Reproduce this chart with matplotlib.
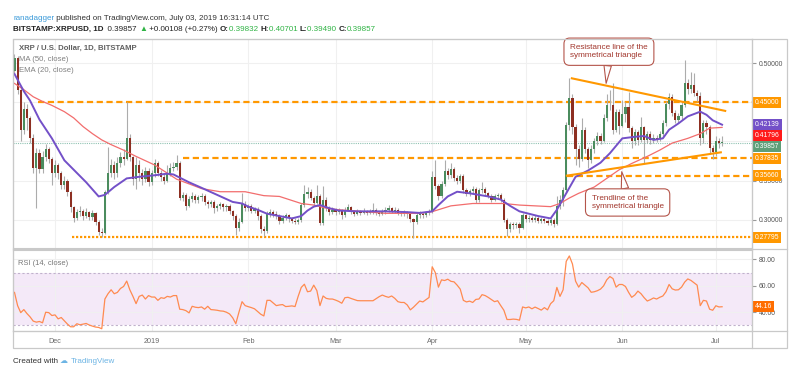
import matplotlib

matplotlib.use("Agg")
import matplotlib.pyplot as plt
from matplotlib.lines import Line2D
from matplotlib.patches import Rectangle
import numpy as np
import pandas as pd

W, H = 800, 378
FONT = ["Liberation Sans", "DejaVu Sans"]
plt.rcParams["font.family"] = FONT

# ---------------------------------------------------------------- data
FIRST_DAY = "2018-11-18"
FIRST_OPEN = 0.490

closes = [
    0.506, 0.466, 0.415, 0.442, 0.430, 0.405, 0.366, 0.385, 0.365, 0.380,
    0.390, 0.378, 0.360, 0.370, 0.360, 0.344, 0.350, 0.336, 0.316, 0.303,
    0.310, 0.312, 0.305, 0.310, 0.304, 0.309, 0.298, 0.285, 0.283, 0.336,
    0.360, 0.370, 0.360, 0.372, 0.380, 0.378, 0.404, 0.380, 0.352, 0.370,
    0.360, 0.352, 0.362, 0.348, 0.360, 0.372, 0.360, 0.355, 0.350, 0.360,
    0.366, 0.368, 0.372, 0.328, 0.332, 0.318, 0.327, 0.331, 0.326, 0.329,
    0.331, 0.323, 0.320, 0.323, 0.315, 0.318, 0.320, 0.316, 0.318, 0.311,
    0.305, 0.290, 0.298, 0.321, 0.315, 0.318, 0.312, 0.314, 0.305, 0.288,
    0.286, 0.308, 0.310, 0.308, 0.305, 0.299, 0.303, 0.306, 0.302, 0.299,
    0.298, 0.300, 0.319, 0.333, 0.336, 0.328, 0.322, 0.330, 0.296, 0.326,
    0.315, 0.310, 0.313, 0.310, 0.312, 0.306, 0.313, 0.316, 0.310, 0.308,
    0.311, 0.309, 0.311, 0.309, 0.311, 0.313, 0.309, 0.308, 0.311, 0.313,
    0.315, 0.312, 0.313, 0.309, 0.308, 0.310, 0.307, 0.301, 0.298, 0.306,
    0.308, 0.306, 0.309, 0.311, 0.355, 0.343, 0.330, 0.346, 0.362, 0.357,
    0.365, 0.353, 0.350, 0.356, 0.338, 0.333, 0.337, 0.340, 0.325, 0.338,
    0.340, 0.334, 0.331, 0.326, 0.330, 0.332, 0.326, 0.300, 0.288, 0.295,
    0.293, 0.295, 0.290, 0.306, 0.301, 0.303, 0.300, 0.303, 0.299, 0.301,
    0.299, 0.296, 0.300, 0.295, 0.318, 0.325, 0.338, 0.421, 0.455, 0.418,
    0.390, 0.378, 0.415, 0.390, 0.377, 0.390, 0.400, 0.407, 0.401, 0.430,
    0.446, 0.447, 0.415, 0.438, 0.420, 0.435, 0.444, 0.417, 0.400, 0.412,
    0.402, 0.418, 0.402, 0.410, 0.402, 0.405, 0.403, 0.410, 0.423, 0.448,
    0.457, 0.436, 0.428, 0.432, 0.447, 0.475, 0.467, 0.472, 0.462, 0.458,
    0.404, 0.423, 0.418, 0.392, 0.386, 0.400, 0.39832, 0.39857,
]

highs = [
    0.512, 0.509, 0.470, 0.450, 0.448, 0.433, 0.410, 0.392, 0.390, 0.388,
    0.397, 0.393, 0.380, 0.376, 0.373, 0.362, 0.356, 0.352, 0.338, 0.318,
    0.314, 0.318, 0.314, 0.315, 0.312, 0.313, 0.310, 0.300, 0.290, 0.338,
    0.393, 0.378, 0.375, 0.380, 0.386, 0.390, 0.450, 0.410, 0.382, 0.380,
    0.376, 0.365, 0.368, 0.366, 0.364, 0.378, 0.375, 0.364, 0.360, 0.370,
    0.372, 0.374, 0.383, 0.375, 0.336, 0.334, 0.331, 0.336, 0.333, 0.332,
    0.334, 0.333, 0.326, 0.326, 0.325, 0.321, 0.323, 0.322, 0.321, 0.320,
    0.313, 0.307, 0.302, 0.335, 0.324, 0.321, 0.320, 0.317, 0.316, 0.307,
    0.292, 0.311, 0.314, 0.313, 0.311, 0.307, 0.306, 0.309, 0.308, 0.304,
    0.302, 0.303, 0.322, 0.345, 0.342, 0.339, 0.331, 0.344, 0.333, 0.343,
    0.329, 0.318, 0.316, 0.315, 0.315, 0.314, 0.316, 0.320, 0.318, 0.313,
    0.314, 0.313, 0.315, 0.313, 0.314, 0.322, 0.315, 0.312, 0.314, 0.316,
    0.319, 0.317, 0.316, 0.315, 0.312, 0.313, 0.312, 0.309, 0.303, 0.309,
    0.311, 0.310, 0.312, 0.314, 0.362, 0.377, 0.346, 0.350, 0.376, 0.366,
    0.372, 0.367, 0.357, 0.359, 0.358, 0.341, 0.340, 0.343, 0.342, 0.341,
    0.349, 0.342, 0.336, 0.333, 0.333, 0.335, 0.334, 0.328, 0.302, 0.298,
    0.297, 0.298, 0.297, 0.309, 0.308, 0.306, 0.305, 0.306, 0.305, 0.304,
    0.303, 0.301, 0.303, 0.302, 0.330, 0.332, 0.342, 0.425, 0.481, 0.460,
    0.422, 0.395, 0.430, 0.418, 0.393, 0.395, 0.405, 0.412, 0.411, 0.435,
    0.460, 0.466, 0.474, 0.442, 0.441, 0.453, 0.450, 0.463, 0.420, 0.416,
    0.415, 0.431, 0.420, 0.414, 0.413, 0.409, 0.408, 0.413, 0.428, 0.452,
    0.462, 0.460, 0.440, 0.436, 0.452, 0.504, 0.480, 0.489, 0.487, 0.466,
    0.463, 0.428, 0.427, 0.421, 0.396, 0.407, 0.404, 0.40701,
]

lows = [
    0.486, 0.460, 0.400, 0.410, 0.415, 0.398, 0.360, 0.315, 0.360, 0.360,
    0.375, 0.372, 0.345, 0.355, 0.352, 0.340, 0.340, 0.330, 0.310, 0.298,
    0.300, 0.305, 0.300, 0.302, 0.300, 0.300, 0.294, 0.281, 0.278, 0.282,
    0.333, 0.355, 0.352, 0.355, 0.368, 0.370, 0.376, 0.375, 0.345, 0.340,
    0.350, 0.345, 0.348, 0.343, 0.345, 0.355, 0.356, 0.350, 0.346, 0.348,
    0.356, 0.362, 0.364, 0.325, 0.324, 0.313, 0.316, 0.323, 0.322, 0.322,
    0.324, 0.319, 0.315, 0.316, 0.309, 0.312, 0.314, 0.312, 0.312, 0.308,
    0.300, 0.281, 0.286, 0.296, 0.311, 0.312, 0.309, 0.309, 0.300, 0.284,
    0.279, 0.284, 0.304, 0.304, 0.301, 0.295, 0.296, 0.300, 0.298, 0.296,
    0.295, 0.295, 0.298, 0.316, 0.328, 0.325, 0.318, 0.320, 0.294, 0.294,
    0.311, 0.306, 0.307, 0.306, 0.307, 0.301, 0.304, 0.311, 0.307, 0.305,
    0.306, 0.306, 0.307, 0.306, 0.307, 0.308, 0.306, 0.305, 0.306, 0.308,
    0.310, 0.309, 0.309, 0.306, 0.305, 0.305, 0.303, 0.298, 0.277, 0.295,
    0.303, 0.303, 0.304, 0.306, 0.309, 0.340, 0.326, 0.328, 0.343, 0.352,
    0.354, 0.350, 0.346, 0.347, 0.335, 0.330, 0.330, 0.334, 0.322, 0.323,
    0.335, 0.331, 0.328, 0.323, 0.324, 0.327, 0.323, 0.297, 0.280, 0.285,
    0.289, 0.290, 0.283, 0.288, 0.298, 0.298, 0.297, 0.298, 0.296, 0.296,
    0.296, 0.293, 0.294, 0.291, 0.293, 0.314, 0.318, 0.335, 0.415, 0.410,
    0.370, 0.368, 0.375, 0.385, 0.366, 0.372, 0.385, 0.395, 0.397, 0.399,
    0.426, 0.440, 0.410, 0.412, 0.410, 0.418, 0.425, 0.412, 0.392, 0.396,
    0.396, 0.399, 0.372, 0.398, 0.397, 0.398, 0.399, 0.400, 0.406, 0.420,
    0.442, 0.432, 0.424, 0.424, 0.428, 0.444, 0.460, 0.462, 0.458, 0.452,
    0.396, 0.398, 0.410, 0.385, 0.378, 0.382, 0.392, 0.39490,
]

# EMA(20) and MA(50) at these bars
ema_bar = [0, 3, 5, 8, 12, 16, 20, 23, 27, 29, 32, 36, 40, 45, 49, 51, 53, 56,
           60, 65, 70, 73, 75, 78, 81, 85, 89, 92, 94, 96, 98, 101, 104, 110,
           119, 126, 130, 134, 136, 139, 142, 146, 152, 156, 159, 162, 168,
           172, 174, 177, 180, 184, 188, 191, 195, 199, 202, 205, 208, 210,
           213, 216, 220, 222, 224, 227]
ema_val = [0.486, 0.464, 0.452, 0.428, 0.404, 0.376, 0.360, 0.348, 0.330,
           0.332, 0.342, 0.353, 0.355, 0.357, 0.359, 0.358, 0.354, 0.348,
           0.341, 0.332, 0.323, 0.321, 0.317, 0.313, 0.308, 0.305, 0.302,
           0.305, 0.312, 0.317, 0.319, 0.315, 0.312, 0.311, 0.311, 0.310,
           0.309, 0.311, 0.319, 0.330, 0.336, 0.334, 0.330, 0.326, 0.318,
           0.311, 0.305, 0.302, 0.313, 0.334, 0.355, 0.363, 0.373, 0.385,
           0.404, 0.406, 0.407, 0.402, 0.404, 0.415, 0.423, 0.432, 0.438,
           0.434, 0.427, 0.42139]

ma_bar = [0, 3, 6, 9, 12, 16, 19, 22, 25, 28, 31, 35, 39, 45, 52, 60, 66, 74,
          80, 85, 92, 96, 100, 104, 111, 119, 130, 134, 140, 147, 157, 162,
          172, 175, 178, 181, 186, 190, 194, 198, 203, 207, 211, 216, 220,
          223, 227]
ma_val = [0.474, 0.466, 0.457, 0.451, 0.446, 0.438, 0.430, 0.419, 0.410,
          0.402, 0.396, 0.389, 0.381, 0.370, 0.352, 0.340, 0.336, 0.336,
          0.331, 0.330, 0.321, 0.319, 0.315, 0.313, 0.311, 0.3085, 0.3085,
          0.3106, 0.318, 0.321, 0.321, 0.319, 0.317, 0.321, 0.328, 0.334,
          0.342, 0.353, 0.364, 0.372, 0.381, 0.389, 0.398, 0.404, 0.410,
          0.417, 0.41796]

rsi = [
    55, 45, 39.7, 42, 39, 36.5, 33.3, 32.5, 33, 32,
    40, 39.7, 37.5, 38, 35, 36, 33.5, 31, 29, 29,
    31.3, 30.5, 31, 31.5, 30.3, 29.5, 28.8, 28.5, 27.5, 50,
    54, 57, 54, 55, 58, 59.5, 63.6, 57, 52, 46.5,
    52, 53, 50, 52.6, 51.5, 51.5, 49, 51, 50.5, 52,
    51.5, 52.6, 52.6, 42.3, 42, 41.2, 39.5, 44.5, 43.8, 43.5,
    44, 42.3, 44.5, 42, 41.8, 41.5, 41, 40.8, 40, 38.7,
    35.8, 31.3, 40, 48, 45, 44.2, 43.5, 42.6, 40.5, 38.5,
    37.2, 49, 49, 47, 45, 45.5, 45.8, 44.3, 44.5, 44.8,
    44.3, 52, 58.8, 61.2, 55.5, 56, 60.5, 56.4, 45, 52.3,
    50.5, 50, 50, 49.2, 48.2, 46.8, 51, 51.3, 50.4, 49.6,
    48.8, 48.7, 48.7, 48.7, 48.7, 48.7, 50.3, 51.8, 53, 52,
    51.3, 52.3, 50.5, 48, 47.4, 47.4, 45.5, 41.8, 43.8, 46.2,
    48.5, 47.8, 49.5, 51.2, 74.4, 70, 59, 64.5, 64, 65,
    63.4, 63, 60.5, 57.5, 49, 47.8, 48.4, 47.4, 49.7, 50,
    53.3, 52.6, 51.2, 49.6, 48, 48.7, 45, 41.5, 34.5, 34.5,
    34.8, 34.6, 34, 44, 43.3, 44, 42.6, 43.9, 42.8, 41.6,
    43.5, 41.8, 46.5, 48.7, 58.8, 52, 57, 78.5, 82.6, 76.5,
    63.5, 59, 62.5, 60.5, 58.5, 55.1, 55.5, 56.3, 57.5, 60,
    64.5, 67, 65.5, 59, 61, 61, 59.5, 55.1, 51.3, 53,
    56, 54, 51, 48.5, 49.5, 50.8, 50, 51.3, 52.3, 55.5,
    61, 57.7, 56.8, 57, 59, 62.8, 65.2, 64.1, 62.3, 60.5,
    45, 49, 48.5, 42.3, 41.5, 44.9, 44, 44.16,
]

# horizontal levels drawn by the author (value, bar where the line starts)
levels = [0.45000, 0.37835, 0.35660, 0.27795]
level_from = [7.5, 54, 177.2, 18.4]
resistance_bar = [178.8, 228.0]
resistance_val = [0.4805, 0.4390]
support_bar = [177.2, 226.6]
support_val = [0.3565, 0.3862]

# ---------------------------------------------------------------- style
UP, DOWN, WICK = "#4b8c5e", "#8d2f22", "#acacac"
ORANGE = "#ff9800"
EMA_C, MA_C = "#7350c8", "#f26d6d"
RSI_C = "#ff8a50"
GRID = "#f0f0f0"
FRAME = "#c9c9c9"
TXT = "#555555"


def fx(px):
    return px / W


def fy(py):
    return 1 - py / H


def text_run(fig, x_px, y_px, parts, size):
    r = fig.canvas.get_renderer()
    x = x_px
    for s, color, weight in parts:
        t = fig.text(fx(x), fy(y_px), s, color=color, fontsize=size,
                     fontweight=weight, ha="left", va="baseline")
        x += t.get_window_extent(r).width


def tag(a, y, label, color, fs=4.9):
    a.text(1.004, y, label, transform=a.get_yaxis_transform(), ha="left",
           va="center", fontsize=fs, color="white", clip_on=False, zorder=10,
           bbox=dict(boxstyle="square,pad=0.3", fc=color, ec="none"))


closes = np.array(closes)
n = len(closes)
x = np.arange(n)
opens = np.r_[FIRST_OPEN, closes[:-1]]
dates = pd.date_range(FIRST_DAY, periods=n, freq="D")

fig = plt.figure(figsize=(W / 100, H / 100), dpi=100)
fig.patch.set_facecolor("white")

ax = fig.add_axes([fx(13), fy(248), fx(739), (248 - 39) / H])
ax_r = fig.add_axes([fx(13), fy(331), fx(739), (331 - 250) / H], sharex=ax)

XMIN, XMAX = -0.48, 236.6
ax.set_xlim(XMIN, XMAX)
ax.set_ylim(0.2643, 0.5306)
ax_r.set_ylim(25.8, 87.1)

# ---------------------------------------------------------------- price pane
month_pos = np.where(dates.day == 1)[0]
month_lab = ["2019" if d.month == 1 else d.strftime("%b") for d in dates[month_pos]]

for a in (ax, ax_r):
    a.set_xticks(month_pos)
    a.grid(True, color=GRID, lw=0.8, zorder=0)
    a.set_axisbelow(True)
    for s in a.spines.values():
        s.set_color(FRAME)
        s.set_linewidth(0.8)
    a.yaxis.tick_right()
    a.tick_params(axis="y", length=3, color="#999999", labelsize=4.9,
                  labelcolor=TXT, pad=2)

ax.tick_params(axis="x", length=0, labelbottom=False)
ax.set_yticks([0.30, 0.35, 0.40, 0.45, 0.50])
# 0.40 and 0.45 sit under the value tags, so only their marks are shown
ax.yaxis.set_major_formatter(
    lambda v, p: "" if round(v, 2) in (0.40, 0.45) else f"{v:.5f}")

# last price line
ax.axhline(closes[-1], color="#8fc2b2", lw=0.8, ls=(0, (1, 1)), zorder=1)

# author levels
for lv, start in zip(levels, level_from):
    style = (0, (1, 0.8)) if lv < 0.3 else (0, (2.8, 1.6))
    ax.plot([start, XMAX], [lv, lv], color=ORANGE, lw=1.6, ls=style, zorder=1.5)

# candles
up = closes >= opens
ax.vlines(x, lows, highs, color=WICK, lw=0.8, zorder=2)
ax.bar(x, np.maximum(np.abs(closes - opens), 0.0008),
       bottom=np.minimum(opens, closes), width=0.7,
       color=np.where(up, UP, DOWN), lw=0, zorder=3)

ax.plot(ma_bar, ma_val, color=MA_C, lw=0.9, zorder=4)
ax.plot(ema_bar, ema_val, color=EMA_C, lw=1.4, zorder=4)

ax.plot(resistance_bar, resistance_val, color=ORANGE, lw=1.5, zorder=5)
ax.plot(support_bar, support_val, color=ORANGE, lw=1.5, zorder=5)

CALL_EC, CALL_TXT = "#b4554b", "#a2372d"
for txt, tip, box in (
    ("Resistance line of the\nsymmetrical triangle", (189.8, 0.4741), (190.7, 0.5144)),
    ("Trendline of the\nsymmetrical triangle", (194.8, 0.3615), (196.7, 0.3223)),
):
    ax.annotate(txt, xy=tip, xytext=box, ha="center", va="center",
                multialignment="left", fontsize=5.9, color=CALL_TXT, zorder=8,
                annotation_clip=False,
                bbox=dict(boxstyle="round,pad=0.75,rounding_size=0.7",
                          fc="white", ec=CALL_EC, lw=0.8),
                arrowprops=dict(arrowstyle="wedge,tail_width=0.9,shrink_factor=0.5",
                                fc="white", ec=CALL_EC, lw=0.8,
                                shrinkA=0, shrinkB=0))

ax.text(0.0081, 1 - (50 - 39) / 209, "XRP / U.S. Dollar, 1D, BITSTAMP",
        transform=ax.transAxes, fontsize=5.6, fontweight="bold", color="#606060",
        va="baseline")
ax.text(0.0081, 1 - (61 - 39) / 209, "MA (50, close)", transform=ax.transAxes,
        fontsize=5.6, color="#808080", va="baseline")
ax.text(0.0081, 1 - (72 - 39) / 209, "EMA (20, close)", transform=ax.transAxes,
        fontsize=5.6, color="#808080", va="baseline")

# right-hand value tags, pushed apart like the platform does
tag_vals = [levels[0], ema_val[-1], ma_val[-1], closes[-1], levels[1], levels[2], levels[3]]
tag_cols = [ORANGE, EMA_C, "#ff1a1a", "#5e9e78", ORANGE, ORANGE, ORANGE]
gap = 11 * (0.5306 - 0.2643) / 209
prev = None
for v, c in zip(tag_vals, tag_cols):
    pos = v if prev is None else min(v, prev - gap)
    tag(ax, pos, f"{v:.5f}", c)
    prev = pos

# ---------------------------------------------------------------- RSI pane
ax_r.axhspan(30, 70, color="#f4e9f8", zorder=0.5, lw=0)
for lv in (70, 30):
    ax_r.axhline(lv, color="#c0b2cc", lw=0.8, ls=(0, (2, 2)), zorder=1)
ax_r.plot(x, rsi, color=RSI_C, lw=0.9, zorder=3)
ax_r.set_yticks([40, 60, 80])
ax_r.yaxis.set_major_formatter(lambda v, p: f"{v:.2f}")
ax_r.set_xticklabels(month_lab)
ax_r.tick_params(axis="x", length=0, labelsize=5.2, labelcolor="#6a6a6a", pad=5)
ax_r.text(0.0068, 1 - (265 - 250) / 81, "RSI (14, close)", transform=ax_r.transAxes,
          fontsize=5.4, color="#777777", va="baseline")
tag(ax_r, rsi[-1], f"{rsi[-1]:.2f}", "#ff6d00")

# ---------------------------------------------------------------- frame
fig.add_artist(Rectangle((fx(13), fy(348)), fx(787 - 13), (348 - 39) / H,
                         transform=fig.transFigure, fill=False, ec=FRAME, lw=0.9))
for yy in (249.5, 331):
    fig.add_artist(Line2D([fx(13), fx(787)], [fy(yy), fy(yy)], color=FRAME, lw=0.9))
fig.add_artist(Line2D([fx(752), fx(752)], [fy(39), fy(348)], color=FRAME, lw=0.9))

# ---------------------------------------------------------------- header / footer
text_run(fig, 13, 20, [("ranadagger", "#3a9ad9", "normal"),
                       (" published on TradingView.com, July 03, 2019 16:31:14 UTC",
                        "#333333", "normal")], 5.8)
G = "#2fb344"
text_run(fig, 13, 31, [("BITSTAMP:XRPUSD, 1D", "#222222", "bold"),
                       ("  0.39857 ", "#222222", "normal"),
                       ("\u25b2", G, "normal"),
                       (" +0.00108 (+0.27%) ", "#222222", "normal"),
                       ("O:", "#222222", "bold"), ("0.39832 ", G, "normal"),
                       ("H:", "#222222", "bold"), ("0.40701 ", G, "normal"),
                       ("L:", "#222222", "bold"), ("0.39490 ", G, "normal"),
                       ("C:", "#222222", "bold"), ("0.39857", G, "normal")], 5.8)
text_run(fig, 13, 363, [("Created with ", "#333333", "normal"),
                        ("\u2601 ", "#6cb4e4", "normal"),
                        ("TradingView", "#6cb4e4", "normal")], 5.8)

fig.savefig("out.png", dpi=100, facecolor="white")
